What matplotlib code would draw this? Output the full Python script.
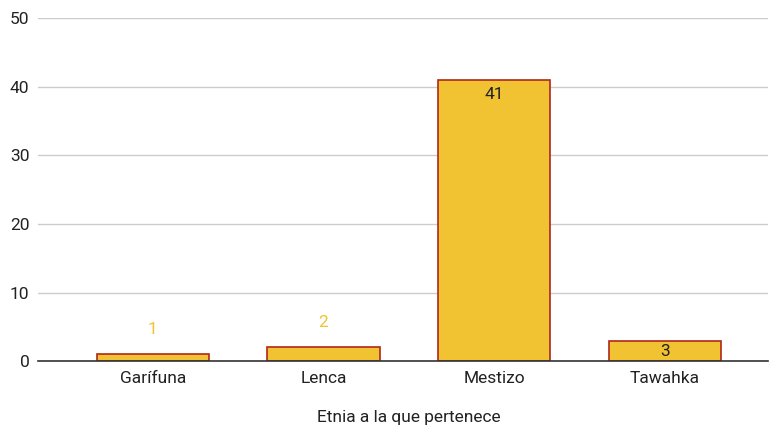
import matplotlib.pyplot as plt

plt.rcParams['font.family'] = ['Roboto', 'DejaVu Sans']

categories = ["Garífuna", "Lenca", "Mestizo", "Tawahka"]
values = [1, 2, 41, 3]
yticks = [0, 10, 20, 30, 40, 50]

fig = plt.figure(figsize=(7.7, 4.32), dpi=100)
ax = fig.add_axes([0.049, 0.164, 0.949, 0.794])

x = list(range(len(categories)))
ax.bar(x, values, width=0.657, color="#F1C232", edgecolor="#B0281A",
       linewidth=1.2, zorder=3)

ax.set_ylim(0, 50)
ax.set_xlim(-0.674, 3.607)
ax.set_yticks(yticks)
ax.set_xticks(x)
ax.set_xticklabels(categories)
ax.tick_params(axis='both', length=0, labelsize=12.5, colors="#222222")
ax.tick_params(axis='x', pad=7)
ax.tick_params(axis='y', pad=6)
ax.grid(axis='y', color="#cccccc", linewidth=1, zorder=0)
for s in ["top", "right", "left"]:
    ax.spines[s].set_visible(False)
ax.spines["bottom"].set_color("#333333")
ax.spines["bottom"].set_linewidth(1.2)
ax.spines["bottom"].set_zorder(4)

ax.set_xlabel("Etnia a la que pertenece", fontsize=12.5, color="#222222")
ax.xaxis.set_label_coords(0.508, -0.143)

# offsets in points (dpi 100 -> 1 px = 0.72 pt)
for xi, v in zip(x, values):
    if v < 2.5:
        ax.annotate(str(v), (xi, v), xytext=(0, 18), textcoords="offset points",
                    ha="center", va="center", fontsize=12.5, color="#F1C232")
    else:
        off = -8 if v < 10 else -10.8
        ax.annotate(str(v), (xi, v), xytext=(0, off), textcoords="offset points",
                    ha="center", va="center", fontsize=12.5, color="#222222", zorder=5)

fig.savefig("out.png", dpi=100)
